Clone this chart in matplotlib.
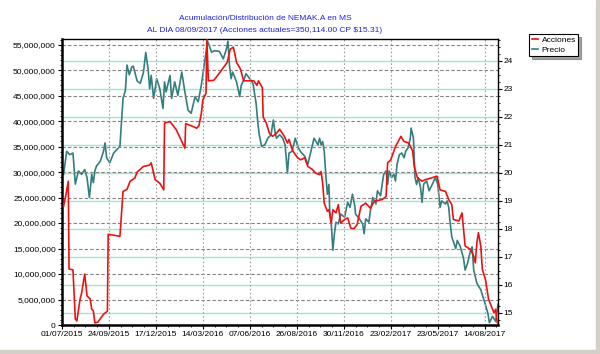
import matplotlib
matplotlib.use("Agg")
import matplotlib.pyplot as plt
from matplotlib.ticker import FuncFormatter, MultipleLocator, FixedLocator
from matplotlib.patches import Rectangle
import numpy as np

# ---- data (x = trading-day index from 01/07/2015) ----
acc_idx = [2, 5, 8, 9, 14, 17, 19, 23, 25, 29, 32, 36, 38, 40, 42, 46, 53, 58, 59, 74, 78, 83, 87, 93, 96,
           104, 110, 112, 114, 116, 119, 125, 130, 131, 138, 146, 154, 157, 158, 168, 172, 175, 178, 180, 184,
           185, 187, 194, 202, 211, 215, 219, 223, 228, 232, 245, 249, 251, 256, 257, 261, 265, 269, 274, 278,
           284, 288, 290, 295, 301, 305, 310, 314, 320, 324, 329, 331, 333, 335, 339, 341, 344, 346, 350, 353,
           356, 361, 365, 369, 373, 377, 382, 388, 394, 399, 409, 414, 416, 420, 426, 433, 437, 443, 448, 450,
           454, 460, 464, 473, 479, 481, 483, 490, 494, 498, 500, 507, 511, 513, 515, 522, 526, 528, 530, 532,
           535, 537, 541, 545, 550, 552, 554, 556, 557]
acc_mill = [23.3, 25.5, 28.2, 11.0, 10.8, 1.2, 0.8, 5.0, 6.2, 10.0, 5.7, 5.1, 3.1, 2.8, 0.4, 0.6, 2.1, 2.7, 17.8,
            17.4, 26.2, 26.6, 28.2, 28.8, 30.0, 31.1, 31.3, 31.4, 31.8, 30.5, 28.5, 27.8, 26.5, 39.6, 39.9, 38.3,
            35.7, 34.7, 39.5, 38.9, 38.6, 39.1, 41.5, 44.2, 45.5, 56.0, 47.9, 48.0, 49.6, 51.5, 54.1, 54.5, 51.5,
            50.2, 47.9, 47.9, 47.0, 47.9, 46.5, 40.8, 39.6, 37.6, 37.0, 37.6, 38.4, 37.0, 35.7, 36.4, 34.1, 32.8,
            32.4, 32.8, 31.1, 30.5, 29.8, 29.5, 30.1, 27.8, 23.9, 22.3, 22.6, 20.0, 22.6, 22.0, 23.6, 20.0, 20.7,
            21.0, 19.0, 18.9, 19.7, 23.3, 23.9, 22.9, 24.3, 24.6, 25.2, 31.8, 32.4, 35.0, 37.0, 36.0, 35.7, 34.1,
            31.1, 28.9, 28.2, 28.5, 28.9, 29.2, 27.8, 26.5, 26.2, 24.6, 23.6, 20.7, 20.4, 22.0, 18.7, 15.5, 14.8,
            13.5, 12.2, 16.1, 18.1, 15.5, 10.9, 8.9, 5.0, 3.1, 2.4, 3.1, 0.5, 0.35]

pre_idx = [2, 6, 10, 14, 17, 21, 25, 29, 32, 35, 38, 40, 42, 44, 49, 53, 55, 57, 61, 66, 70, 74, 76, 78, 81, 83,
           86, 89, 91, 96, 100, 104, 107, 110, 112, 114, 117, 121, 125, 129, 131, 133, 138, 140, 144, 148, 153,
           157, 161, 165, 170, 174, 178, 183, 186, 191, 195, 201, 206, 210, 212, 214, 216, 218, 223, 227, 229,
           233, 235, 240, 244, 248, 250, 252, 255, 259, 263, 267, 270, 272, 274, 278, 282, 285, 288, 290, 294,
           298, 302, 305, 310, 314, 318, 322, 327, 329, 331, 333, 335, 337, 339, 341, 342, 344, 346, 348, 350,
           353, 356, 361, 365, 368, 371, 374, 375, 380, 384, 386, 388, 392, 394, 397, 401, 403, 407, 409, 411,
           414, 416, 418, 421, 424, 426, 428, 431, 434, 437, 439, 442, 445, 446, 449, 451, 453, 455, 458, 460,
           462, 466, 469, 473, 477, 480, 483, 485, 490, 492, 494, 496, 498, 503, 505, 509, 513, 515, 518, 520,
           522, 524, 526, 530, 535, 539, 544, 546, 550, 554, 557]
pre_val = [19.95, 20.77, 20.65, 20.71, 19.6, 20.07, 19.95, 20.12, 19.83, 19.12, 19.95, 19.65, 20.07, 20.24, 20.42,
           20.77, 21.07, 20.54, 20.36, 20.71, 20.83, 20.95, 21.83, 22.66, 22.95, 23.85, 23.5, 23.78, 23.81, 23.28,
           23.2, 23.58, 24.3, 23.7, 23.01, 23.48, 22.66, 23.36, 23.0, 22.3, 23.25, 22.89, 23.48, 22.66, 23.25,
           22.77, 23.6, 22.89, 22.24, 22.13, 22.72, 22.54, 23.13, 24.1, 24.7, 24.31, 24.36, 24.34, 24.07, 24.42,
           24.7, 23.83, 23.36, 23.6, 23.25, 22.72, 23.13, 23.36, 23.54, 23.36, 23.19, 22.48, 21.83, 21.36, 20.95,
           21.0, 21.24, 21.36, 21.89, 21.48, 21.24, 21.36, 21.24, 21.0, 20.0, 20.71, 20.77, 21.24, 20.89, 20.75,
           20.6, 20.3, 20.77, 21.24, 21.0, 21.24, 21.0, 21.12, 20.77, 19.95, 19.24, 19.59, 18.65, 18.18, 17.24,
           17.83, 18.24, 18.18, 18.53, 18.42, 18.95, 18.77, 19.24, 18.83, 18.53, 18.36, 18.18, 17.83, 18.36,
           18.24, 18.65, 19.12, 18.89, 19.36, 19.18, 19.59, 19.95, 20.07, 19.59, 20.07, 19.83, 19.95, 19.71,
           20.3, 20.65, 20.71, 20.54, 20.77, 20.89, 21.24, 21.6, 21.24, 19.83, 19.59, 19.83, 19.48, 18.95, 19.6,
           19.71, 19.36, 19.59, 19.83, 19.59, 18.77, 19.0, 18.89, 19.0, 18.77, 18.18, 17.71, 17.3, 17.59, 17.36,
           16.94, 16.53, 16.77, 17.0, 17.24, 17.36, 16.53, 16.06, 15.83, 15.47, 15.0, 14.65, 14.88, 14.7, 15.31]

tick_pos = [0, 60, 120, 180, 240, 300, 360, 420, 480, 540]
tick_labels = ["01/07/2015", "24/09/2015", "17/12/2015", "14/03/2016", "07/06/2016",
               "26/08/2016", "30/11/2016", "23/02/2017", "23/05/2017", "14/08/2017"]

title1 = "Acumulación/Distribución de NEMAK.A en MS"
title2 = "AL DIA 08/09/2017 (Acciones actuales=350,114.00 CP $15.31)"

plt.rcParams['font.family'] = ['Liberation Sans Narrow', 'Liberation Sans', 'DejaVu Sans']
FS = 6.0

fig = plt.figure(figsize=(6.0, 3.54), dpi=100)
fig.patch.set_facecolor("white")
# window frame
fig.patches.append(Rectangle((0, 0), 1, 4/354, transform=fig.transFigure, color="#d4d0c8", zorder=-1))
fig.patches.append(Rectangle((596/600, 0), 4/600, 1, transform=fig.transFigure, color="#d4d0c8", zorder=-1))

ax = fig.add_axes([62/600, 1-325/354, 436/600, 286/354])
ax2 = ax.twinx()

acc = np.array(acc_mill) * 1e6
ax.set_xlim(0, 557)
ax.set_ylim(0, 56.1e6)
ax2.set_ylim(14.57, 24.78)

# grids
for v in np.arange(0, 56e6, 5e6):
    ax.axhline(v, color="#808080", lw=0.8, ls=(0, (3, 2)), zorder=1)
for p in range(15, 25):
    ax2.axhline(p, color="#99e8d0", lw=1.0, zorder=0.5)
for t in tick_pos[1:]:
    ax.axvline(t, color="#a0a0a0", lw=0.8, ls=(0, (1.5, 2)), zorder=1)

ax2.plot(pre_idx, pre_val, color="#347e7e", lw=1.2, zorder=3, label="Precio")
ax.plot(acc_idx, acc, color="#ee1111", lw=1.2, zorder=3, label="Acciones")
ax.set_zorder(ax2.get_zorder() + 1)
ax.patch.set_visible(False)

ax.yaxis.set_major_locator(MultipleLocator(5e6))
ax.yaxis.set_major_formatter(FuncFormatter(lambda v, p: f"{int(round(v)):,}"))
ax.yaxis.set_minor_locator(MultipleLocator(1e6))
ax.xaxis.set_major_locator(FixedLocator(tick_pos))
ax.set_xticklabels(tick_labels)
ax.xaxis.set_minor_locator(MultipleLocator(15))
ax2.yaxis.set_major_locator(MultipleLocator(1))
ax2.yaxis.set_minor_locator(MultipleLocator(0.25))

ax.tick_params(axis="both", which="major", labelsize=FS, length=3, width=0.8, pad=1.5, colors="black")
ax.tick_params(axis="both", which="minor", length=1.5, width=0.6)
ax2.tick_params(axis="y", which="major", labelsize=FS, length=3, width=0.8, pad=1)
ax2.tick_params(axis="y", which="minor", length=1.5, width=0.6)

for s in ["left", "bottom"]:
    ax.spines[s].set_linewidth(1.8)
for s in ["top", "right"]:
    ax.spines[s].set_linewidth(1.0)
for s in ax2.spines.values():
    s.set_visible(False)

fig.text(265/600, 1-18/354, title1, ha="center", va="center", fontsize=FS, color="#2222dd")
fig.text(265/600, 1-30/354, title2, ha="center", va="center", fontsize=FS, color="#2222dd")

h1, l1 = ax.get_legend_handles_labels()
h2, l2 = ax2.get_legend_handles_labels()
leg = fig.legend(h1 + h2, l1 + l2, loc="upper left", bbox_to_anchor=(529/600, 1-34/354),
                 fontsize=FS, frameon=True, fancybox=False, shadow=True, handlelength=0.8,
                 handletextpad=0.4, borderpad=0.3, labelspacing=0.2, borderaxespad=0)
leg.get_frame().set_edgecolor("black")
leg.get_frame().set_linewidth(0.8)

fig.savefig("out.png", dpi=100, facecolor="white")
